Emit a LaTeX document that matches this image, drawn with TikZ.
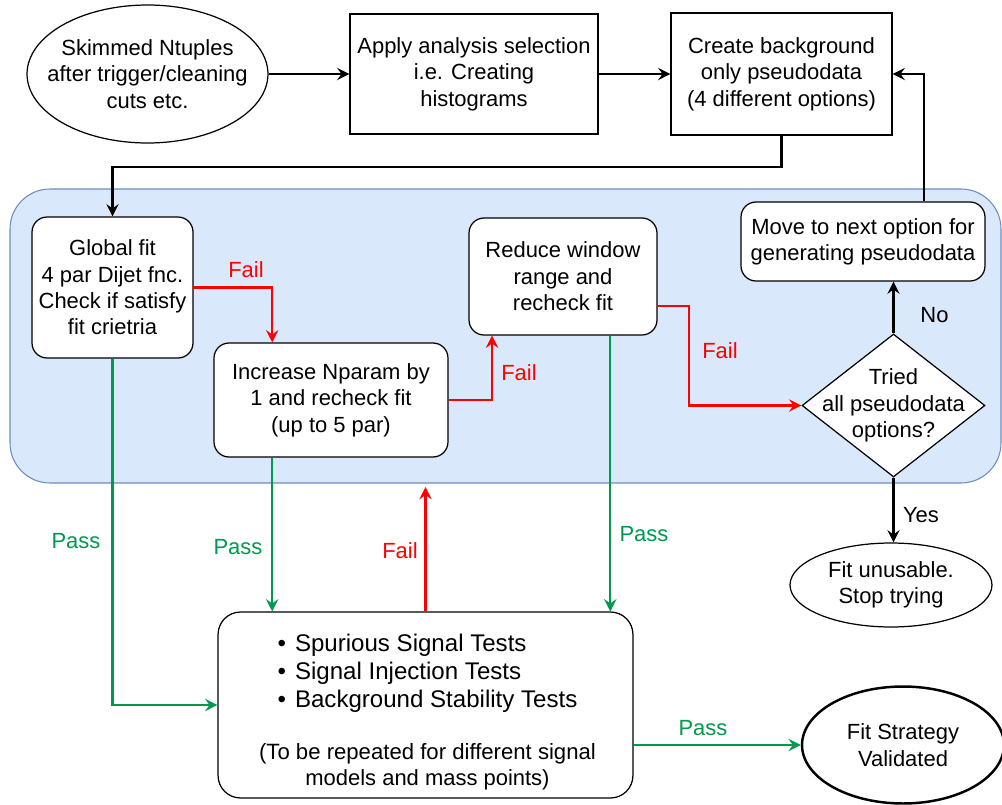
\documentclass[tikz,border=0pt]{standalone}
\usepackage{fontspec}
\setmainfont{Liberation Sans}
\usetikzlibrary{shapes.geometric,arrows.meta,calc}

\definecolor{Cfailred}{HTML}{FF0000}
\definecolor{Cpassgreen}{HTML}{00994D}
\definecolor{Cloopfill}{HTML}{DAE8FC}
\definecolor{Cloopline}{HTML}{6C8EBF}

\begin{document}
\begin{tikzpicture}[x=0.02cm,y=-0.02cm,
	every node/.style={font=\fontsize{12.5}{15}\selectfont},
	plainbox/.style={draw,line width=0.7pt,fill=white,align=center,inner sep=0pt},
	roundbox/.style={plainbox,rounded corners=0.3cm},
	ovalbox/.style={ellipse,draw,line width=0.7pt,fill=white,inner sep=0pt},
	choicebox/.style={diamond,draw,line width=0.7pt,fill=white,inner sep=0pt},
	blkarr/.style={-{Stealth[length=7pt,width=7pt,inset=2.5pt]},line width=1.15pt},
	failarr/.style={blkarr,Cfailred},
	passarr/.style={blkarr,Cpassgreen},
	failtxt/.style={text=Cfailred},
	passtxt/.style={text=Cpassgreen}]
	\useasboundingbox (0,0) rectangle (1002,805);

	% fitting loop
	\draw[Cloopline,fill=Cloopfill,line width=0.6pt,rounded corners=0.8cm]
	(10,189) rectangle (1001,483);

	% top row
	\node[ovalbox,minimum width=4.82cm,minimum height=2.76cm,
	label={[align=center]center:Skimmed Ntuples\\after trigger/cleaning\\cuts etc.}] (ntuples) at (147.5,74) {};
	\node[plainbox,minimum width=4.96cm,minimum height=2.4cm] (select) at (474,74)
	{Apply analysis selection\\i.e. Creating\\histograms};
	\node[plainbox,minimum width=4.42cm,minimum height=2.44cm] (pseudo) at (781.5,74)
	{Create background\\only pseudodata\\(4 different options)};

	% boxes in the loop
	\node[roundbox,minimum width=3.22cm,minimum height=2.82cm] (globfit) at (112.5,287.5)
	{Global fit\\4 par Dijet fnc.\\Check if satisfy\\fit crietria};
	\node[roundbox,minimum width=4.68cm,minimum height=2.28cm] (nparam) at (331,400)
	{Increase Nparam by\\1 and recheck fit\\(up to 5 par)};
	\node[roundbox,minimum width=3.76cm,minimum height=2.34cm] (window) at (563,276.5)
	{Reduce window\\range and\\recheck fit};
	\node[roundbox,minimum width=4.88cm,minimum height=1.58cm] (nextopt) at (863,241.5)
	{Move to next option for\\generating pseudodata};
	\node[choicebox,minimum width=3.66cm,minimum height=2.86cm,
	label={[align=center]center:Tried\\all pseudodata\\options?}] (tried) at (893.5,405.5) {};

	% outcomes
	\node[ovalbox,minimum width=4.04cm,minimum height=1.68cm,
	label={[align=center]center:Fit unusable.\\Stop trying}] (unusable) at (891,585) {};
	\node[roundbox,rounded corners=0.45cm,minimum width=8.3cm,minimum height=3.72cm] (tests) at (425.5,705) {};
	\node[align=center] (teststext) at ([shift={(2,6)}]tests.center)
	{{\fontsize{13.7}{15.9}\selectfont\begin{tabular}{@{}l@{}}
	\textbullet\hspace{0.18cm}Spurious Signal Tests\\
	\textbullet\hspace{0.18cm}Signal Injection Tests\\
	\textbullet\hspace{0.18cm}Background Stability Tests
	\end{tabular}}\\[0.52cm]
	\fontsize{12.6}{15.4}\selectfont (To be repeated for different signal\\models and mass points)};
	\node[ovalbox,line width=1.4pt,minimum width=4.04cm,minimum height=2.34cm,
	label={[align=center]center:Fit Strategy\\Validated}] (validated) at (903,745) {};

	% branch points
	\coordinate (nparamin) at ($(nparam.north west)!0.25!(nparam.north east)$);
	\coordinate (nparamout) at ($(nparam.south west)!0.25!(nparam.south east)$);
	\coordinate (windowin) at ($(window.south west)!0.125!(window.south east)$);
	\coordinate (windowout) at ($(window.south west)!0.75!(window.south east)$);
	\coordinate (windowfail) at ($(window.north east)!0.75!(window.south east)$);
	\coordinate (nextout) at ($(nextopt.north west)!0.75!(nextopt.north east)$);
	\coordinate (retry) at (426,487);

	% connectors
	\draw[blkarr] (ntuples.east) -- (select.west);
	\draw[blkarr] (select.east) -- (pseudo.west);
	\draw[blkarr] (pseudo.south) -- ++(0,31) -| (globfit.north);
	\draw[failarr] (globfit.east) -| (nparamin);
	\draw[failarr] (nparam.east) -| (windowin);
	\draw[failarr] (windowfail) -- ++(31,0) |- (tried.west);
	\draw[blkarr] (tried.north) -- (tried.north |- nextopt.south);
	\draw[blkarr] (nextout) |- (pseudo.east);
	\draw[blkarr] (tried.south) -- (tried.south |- unusable.north);
	\draw[passarr] (globfit.south) |- (tests.west);
	\draw[passarr] (nparamout) -- (nparamout |- tests.north);
	\draw[passarr] (windowout) -- (windowout |- tests.north);
	\draw[failarr] (tests.north) -- (tests.north |- retry);
	\draw[passarr] (validated.west -| tests.east) -- (validated.west);

	% connector labels
	\node[failtxt] (failnparam) at (246,270) {Fail};
	\node[failtxt] (failwindow) at (519,373) {Fail};
	\node[failtxt] (failtried) at (720,351) {Fail};
	\node[failtxt] (failretry) at (400,551) {Fail};
	\node (nolbl) at (934.5,315.5) {No};
	\node (yeslbl) at (921,515) {Yes};
	\node[passtxt] (passglob) at (76,541) {Pass};
	\node[passtxt] (passnparam) at (238,547) {Pass};
	\node[passtxt] (passwindow) at (644,534) {Pass};
	\node[passtxt] (passtests) at (703,728) {Pass};
\end{tikzpicture}
\end{document}
